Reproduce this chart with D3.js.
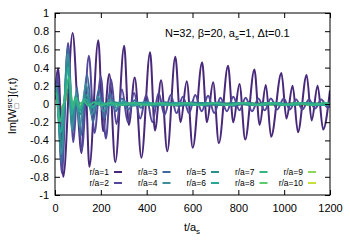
<!DOCTYPE html>
<html><head><meta charset="utf-8">
<script src="https://cdn.jsdelivr.net/npm/d3@7"></script>
<style>body{margin:0;background:#fff}svg{display:block}text{font-family:"Liberation Sans",Arial,sans-serif;fill:#000}</style>
</head><body><svg id="c" width="350" height="250"></svg>
<script>
const seriesNames = ["r/a=1","r/a=2","r/a=3","r/a=4","r/a=5","r/a=6","r/a=7","r/a=8","r/a=9","r/a=10"];
const seriesColors = ["#47287a","#54479a","#3f699e","#3f8e9e","#2a8e8e","#2aa596","#35b583","#5ccb70","#8cd65a","#c5df3e"];
const xTicks = [0,200,400,600,800,1000,1200];
const yTicks = [-1,-0.8,-0.6,-0.4,-0.2,0,0.2,0.4,0.6,0.8,1];

const r1 = [[0,0.08],[14,0.39],[36,-0.80],[77,0.78],[100,-0.1],[116,-0.54],[133,0.2],[150,-0.69],[189,0.70],[210,-0.3],[237,0.33],[263,-0.64],[302,0.64],[322,-0.23],[348,0.29],[377,-0.59],[415,0.57],[436,-0.29],[463,0.26],[490,-0.52],[525,0.52],[548,-0.2],[575,0.25],[601,-0.48],[642,0.46],[663,-0.2],[690,0.24],[715,-0.43],[755,0.42],[778,-0.2],[805,0.22],[830,-0.39],[870,0.38],[893,-0.23],[920,0.21],[943,-0.36],[988,0.34],[1010,-0.16],[1037,0.2],[1060,-0.31],[1098,0.32],[1120,-0.18],[1146,0.2],[1170,-0.28],[1200,0.15]];
const r2 = [[0,0.05],[10,0.32],[30,-0.76],[57,0.67],[80,-0.42],[98,0.12],[116,-0.52],[148,0.53],[172,-0.32],[200,0.3],[222,-0.38],[245,0.27],[268,-0.22],[292,0.16],[318,-0.2],[345,0.12],[372,-0.16],[398,0.1],[425,-0.2],[452,0.12],[478,-0.12],[505,0.1],[530,-0.1],[558,0.08],[585,-0.1],[612,0.1],[640,-0.08],[668,0.09],[695,-0.1],[722,0.07],[750,-0.08],[778,0.08],[805,-0.07],[832,0.07],[860,-0.08],[888,0.06],[915,-0.07],[942,0.06],[970,-0.06],[998,0.06],[1025,-0.06],[1052,0.05],[1080,-0.06],[1108,0.05],[1135,-0.05],[1162,0.05],[1190,-0.04],[1200,-0.02]];
const r3 = [[0,0.1],[8,0.22],[28,-0.65],[56,0.62],[78,-0.3],[96,0.18],[112,-0.35],[140,0.32],[165,-0.2],[192,0.16],[215,-0.16],[240,0.12],[265,-0.08],[292,0.06],[320,-0.06],[348,0.04],[375,-0.04],[402,0.03],[430,-0.03],[480,0.02],[540,-0.02],[600,0.02],[660,-0.02],[720,0.02],[780,-0.02],[840,0.015],[900,-0.015],[960,0.015],[1020,-0.015],[1080,0.01],[1140,-0.01],[1200,0]];
const r4 = [[0,0.1],[7,0.18],[27,-0.55],[56,0.55],[74,-0.28],[92,0.12],[108,-0.25],[135,0.22],[160,-0.12],[188,0.08],[212,-0.08],[240,0.05],[268,-0.04],[300,0.03],[340,-0.02],[390,0.02],[450,-0.015],[520,0.015],[590,-0.015],[660,0.012],[730,-0.012],[800,0.012],[870,-0.01],[940,0.01],[1010,-0.01],[1080,0.01],[1150,-0.01],[1200,0]];
const r5 = [[0,0.1],[6,0.14],[25,-0.45],[57,0.47],[72,-0.2],[90,0.08],[108,-0.12],[135,0.1],[160,-0.05],[190,0.03],[220,-0.03],[260,0.02],[310,-0.015],[370,0.015],[430,-0.012],[500,0.012],[570,-0.012],[640,0.01],[710,-0.01],[780,0.01],[850,-0.01],[920,0.01],[990,-0.01],[1060,0.01],[1130,-0.01],[1200,0]];
const r6 = [[0,0.1],[6,0.12],[23,-0.32],[59,0.4],[72,-0.12],[88,0.06],[106,-0.08],[130,0.06],[160,-0.03],[195,0.02],[240,-0.015],[290,0.015],[350,-0.012],[410,0.012],[480,-0.01],[550,0.01],[620,-0.01],[690,0.01],[760,-0.01],[830,0.01],[900,-0.01],[970,0.01],[1040,-0.01],[1110,0.01],[1170,-0.01],[1200,0]];
const r7 = [[0,0.1],[5,0.12],[20,-0.2],[40,0.02],[62,0.3],[77,-0.05],[92,0.07],[108,-0.04],[125,0.04],[145,-0.02],[170,0.02],[200,-0.015],[240,0.012],[290,-0.012],[340,0.01],[400,-0.01],[460,0.01],[520,-0.01],[580,0.01],[640,-0.01],[700,0.01],[760,-0.01],[820,0.01],[880,-0.01],[940,0.01],[1000,-0.01],[1060,0.01],[1120,-0.01],[1180,0.01],[1200,0]];
const r8 = [[0,0.08],[5,0.1],[20,-0.12],[62,0.18],[80,-0.03],[100,0.02],[130,-0.01],[180,0.01],[260,-0.01],[360,0.01],[480,-0.01],[600,0.01],[720,-0.01],[840,0.01],[960,-0.01],[1080,0.01],[1200,0]];
const r9 = [[0,0.06],[5,0.08],[20,-0.08],[62,0.12],[80,-0.02],[110,0.01],[160,-0.01],[260,0.01],[380,-0.01],[500,0.01],[640,-0.01],[780,0.01],[920,-0.01],[1060,0.01],[1200,0]];
const r10 = [[0,0.05],[5,0.06],[20,-0.05],[62,0.08],[80,-0.01],[120,0.01],[200,-0.01],[320,0.01],[460,-0.01],[600,0.01],[760,-0.01],[920,0.01],[1080,-0.01],[1200,0]];
const series = [r1,r2,r3,r4,r5,r6,r7,r8,r9,r10];
const drawOrder = [9,8,7,0,1,2,3,4,5,6];

const svg = d3.select("#c");
const L=55,R=330,T=13,B=195;
const x = d3.scaleLinear().domain([0,1200]).range([L,R]);
const y = d3.scaleLinear().domain([-1,1]).range([B,T]);

svg.append("clipPath").attr("id","clip").append("rect").attr("x",L).attr("y",T).attr("width",R-L).attr("height",B-T);

const line = d3.line().x(d=>x(d[0])).y(d=>y(d[1])).curve(d3.curveMonotoneX);
const g = svg.append("g").attr("clip-path","url(#clip)");
drawOrder.forEach(i=>{
  g.append("path").attr("d",line(series[i])).attr("fill","none")
   .attr("stroke",seriesColors[i]).attr("stroke-width",2).attr("stroke-linejoin","round");
});

const fmt = d=>String(+d.toFixed(1));
const ax = [
  svg.append("g").attr("transform",`translate(${L},0)`).call(d3.axisLeft(y).tickValues(yTicks).tickSize(-5).tickPadding(6).tickFormat(fmt)),
  svg.append("g").attr("transform",`translate(${R},0)`).call(d3.axisRight(y).tickValues(yTicks).tickSize(-5).tickFormat("")),
  svg.append("g").attr("transform",`translate(0,${B})`).call(d3.axisBottom(x).tickValues(xTicks).tickSize(-5).tickPadding(9).tickFormat(d3.format("d"))),
  svg.append("g").attr("transform",`translate(0,${T})`).call(d3.axisTop(x).tickValues(xTicks).tickSize(-5).tickFormat(""))
];
ax.forEach(a=>{a.select(".domain").remove();a.selectAll("text").attr("font-size",11).attr("font-family","Liberation Sans, Arial, sans-serif");a.selectAll("line").attr("stroke","#000");});
svg.append("rect").attr("x",L).attr("y",T).attr("width",R-L).attr("height",B-T).attr("fill","none").attr("stroke","#000").attr("stroke-width",1);

// title
const tt = svg.append("text").attr("x",165).attr("y",37).attr("font-size",11);
tt.append("tspan").text("N=32, β=20, a");
tt.append("tspan").attr("font-size",8).attr("dy",3).text("s");
tt.append("tspan").attr("dy",-3).text("=1, Δt=0.1");

// x label
const xl = svg.append("text").attr("x",192).attr("y",231).attr("font-size",11).attr("text-anchor","middle");
xl.append("tspan").text("t/a");
xl.append("tspan").attr("font-size",8).attr("dy",3).text("s");

// y label (rotated), built left-to-right then centred
const yl = svg.append("g").attr("transform","translate(16,106) rotate(-90)");
const p1 = yl.append("text").attr("font-size",11).text("Im[W");
const w1 = p1.node().getComputedTextLength();
const sup = yl.append("text").attr("x",w1+0.5).attr("y",-4).attr("font-size",7.5).text("src");
const ws = sup.node().getComputedTextLength();
const sub = yl.append("text").attr("x",w1+0.5).attr("y",3).attr("font-size",7.5).text("□");
const p2 = yl.append("text").attr("x",w1+ws+1.5).attr("font-size",11).text("](r,t)");
const total = w1+ws+1.5+p2.node().getComputedTextLength();
yl.selectAll("text").attr("transform",`translate(${-total/2},0)`);

// legend
const lg = svg.append("g");
seriesNames.forEach((n,i)=>{
  const col = Math.floor(i/2), row = i%2;
  const sx = 114 + col*48.5, sy = 172 + row*11;
  lg.append("text").attr("x",sx-5).attr("y",sy+3).attr("font-size",8.5).attr("text-anchor","end").text(n);
  lg.append("line").attr("x1",sx).attr("x2",sx+8).attr("y1",sy).attr("y2",sy).attr("stroke",seriesColors[i]).attr("stroke-width",2);
});
</script></body></html>
